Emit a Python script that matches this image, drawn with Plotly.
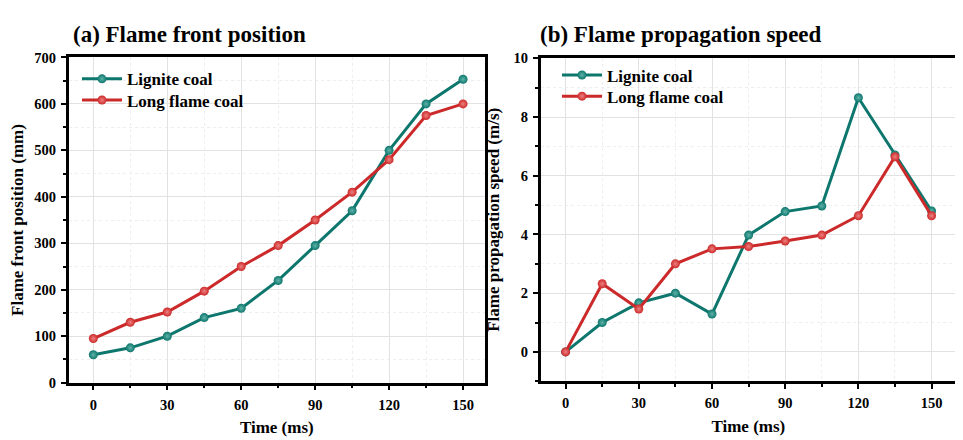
import plotly.graph_objects as go

time_ms = [0, 15, 30, 45, 60, 75, 90, 105, 120, 135, 150]

pos_lignite = [60, 75, 100, 140, 160, 220, 295, 370, 500, 600, 653]
pos_long = [95, 130, 152, 197, 250, 295, 350, 410, 480, 575, 600]

spd_lignite = [0, 1.0, 1.67, 2.0, 1.29, 3.98, 4.78, 4.97, 8.66, 6.71, 4.8]
spd_long = [0, 2.32, 1.46, 3.0, 3.51, 3.59, 3.78, 3.98, 4.64, 6.65, 4.64]

names = ["Lignite coal", "Long flame coal"]
titles = ["(a) Flame front position", "(b) Flame propagation speed"]
x_title = "Time (ms)"
y_titles = ["Flame front position (mm)", "Flame propagation speed (m/s)"]

TEAL = "#0e776d"
RED = "#cc2a2a"
FONT = "Liberation Serif, Times New Roman, serif"

fig = go.Figure()

def add(x, y, name, color, light, xa, ya, legend):
    fig.add_trace(go.Scatter(
        x=x, y=y, name=name, mode="lines+markers",
        line=dict(color=color, width=3),
        marker=dict(size=9, color=color, symbol="circle",
                    gradient=dict(type="radial", color=light),
                    line=dict(width=0)),
        xaxis=xa, yaxis=ya, legend=legend,
    ))

add(time_ms, pos_lignite, names[0], TEAL, "#5fb3a9", "x", "y", "legend")
add(time_ms, pos_long, names[1], RED, "#ee8080", "x", "y", "legend2")
add(time_ms, spd_lignite, names[0], TEAL, "#5fb3a9", "x2", "y2", "legend3")
add(time_ms, spd_long, names[1], RED, "#ee8080", "x2", "y2", "legend4")

tickfont = dict(family=FONT, size=14.5, color="black", weight="bold")
titlefont = dict(family=FONT, size=17, color="black", weight="bold")
legfont = dict(family=FONT, size=17, color="black", weight="bold")

common_axis = dict(
    showline=True, linecolor="black", linewidth=2.5, mirror=True,
    ticks="outside", ticklen=5, tickwidth=2, tickcolor="black",
    showgrid=True, gridcolor="#e2e2e2", gridwidth=1,
    zeroline=False, tickfont=tickfont, ticklabelstandoff=2,
    minor=dict(ticks="outside", ticklen=3, tickwidth=1.5, tickcolor="black",
               showgrid=True, gridcolor="#eeeeee", griddash="dot", gridwidth=1),
)

def leg(xpx, ypx):
    return dict(x=xpx / 963, y=1 - ypx / 440, xanchor="left", yanchor="top",
                bgcolor="rgba(0,0,0,0)", font=legfont, itemwidth=40)

fig.update_layout(
    width=963, height=440,
    margin=dict(l=0, r=0, t=0, b=0),
    paper_bgcolor="white", plot_bgcolor="white",
    showlegend=True,
    xaxis=dict(domain=[0.0630, 0.4953], anchor="y", range=[-10, 158.9],
               tickvals=[0, 30, 60, 90, 120, 150],
               minor=dict(tickvals=[15, 45, 75, 105, 135]),
               title=dict(text=x_title, font=titlefont, standoff=10)),
    yaxis=dict(domain=[0.1352, 0.9023], anchor="x", range=[0, 700], dtick=100,
               minor=dict(dtick=50),
               title=dict(text=y_titles[0], font=titlefont, standoff=12)),
    xaxis2=dict(domain=[0.5532, 0.9844], anchor="y2", range=[-10.2, 160],
                tickvals=[0, 30, 60, 90, 120, 150],
                minor=dict(tickvals=[15, 45, 75, 105, 135]),
                title=dict(text=x_title, font=titlefont, standoff=10)),
    yaxis2=dict(domain=[0.1386, 0.9], anchor="x2", range=[-1, 10],
                tickvals=[0, 2, 4, 6, 8, 10],
                minor=dict(tickvals=[-1, 1, 3, 5, 7, 9]),
                title=dict(text=y_titles[1], font=titlefont, standoff=10)),
    legend=leg(69, 47),
    legend2=leg(69, 69),
    legend3=leg(549, 43),
    legend4=leg(549, 65),
)

for ax_name in ["xaxis", "yaxis", "xaxis2", "yaxis2"]:
    ax = fig.layout[ax_name]
    minor_extra = ax.minor.to_plotly_json() if ax.minor else {}
    merged = dict(common_axis)
    merged_minor = dict(common_axis["minor"])
    merged_minor.update(minor_extra)
    merged["minor"] = merged_minor
    fig.layout[ax_name].update(merged)

fig.add_annotation(text=titles[0], x=63 / 963, y=1 - 19 / 440, xref="paper", yref="paper",
                   xanchor="left", yanchor="middle", showarrow=False,
                   font=dict(family=FONT, size=23, color="black", weight="bold"))
fig.add_annotation(text=titles[1], x=530 / 963, y=1 - 19 / 440, xref="paper", yref="paper",
                   xanchor="left", yanchor="middle", showarrow=False,
                   font=dict(family=FONT, size=23, color="black", weight="bold"))

fig.write_html("out.html")
